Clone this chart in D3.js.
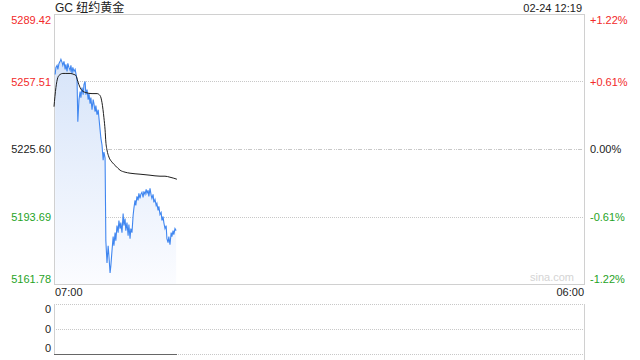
<!DOCTYPE html>
<head>
<meta charset="utf-8">
<script src="https://d3js.org/d3.v7.min.js"></script>
<style>
body {
  margin: 0;
  background: #fff;
}
svg {
  font-family: "Liberation Sans", Arial, "Noto Sans CJK SC", sans-serif;
  display: block;
}
.grid line {
  stroke: #c8c8c8;
  shape-rendering: crispEdges;
}
.frame {
  stroke: #d0d0d0;
  fill: none;
  shape-rendering: crispEdges;
}
</style>
</head>
<body>
<div id="chart"></div>
<script>

// --- Data ---
let title = "GC 纽约黄金",
    stamp = "02-24 12:19";

let prevClose = 5225.60;
let priceTicks = [5161.78, 5193.69, 5225.60, 5257.51, 5289.42];
let timeLabels = ["07:00", "06:00"];

// minutes after 07:00 for the price line
let priceMin = [3,5,8,10,13,16,18,21,23,26,29,31,34,36,39,42,44,47,49,52,
  55,57,60,62,65,68,70,73,76,78,81,83,86,89,91,94,96,99,102,104,
  107,109,112,115,117,120,122,125,128,130,133,135,138,141,143,146,148,151,154,156,
  159,161,164,167,169,172,174,177,180,182,185,187,190,193,195,198,200,203,206,208,
  211,213,216,219,221,224,226,229,232,234,237,240,242,245,247,250,253,255,258,260,
  263,266,268,271,273,276,279,281,284,286,289,292,294,297,299,302,305,307,310,312,
  315,318];

let price = [5260.84,5264.18,5265.13,5263.22,5266.08,5267.03,5267.99,5266.56,5265.13,5267.03,
  5263.22,5265.61,5262.27,5266.08,5264.18,5262.75,5265.13,5261.32,5264.18,5262.27,
  5263.22,5261.32,5258.46,5238.46,5248.94,5252.75,5249.89,5254.65,5251.32,5256.08,
  5257.51,5251.32,5253.70,5248.94,5251.79,5247.03,5249.89,5244.17,5248.94,5247.03,
  5243.22,5246.08,5241.79,5244.17,5240.36,5234.65,5230.83,5227.50,5220.36,5224.17,
  5221.31,5182.26,5171.77,5179.87,5175.11,5167.01,5170.35,5177.49,5184.16,5179.87,
  5186.06,5182.26,5189.40,5186.06,5191.78,5187.97,5190.83,5186.06,5195.12,5189.40,
  5192.73,5187.02,5190.83,5184.64,5189.88,5183.21,5187.97,5186.06,5194.16,5197.50,
  5201.31,5198.93,5203.21,5201.31,5204.64,5202.26,5204.16,5205.12,5202.74,5205.59,
  5204.16,5206.54,5204.64,5206.07,5203.21,5207.02,5203.69,5202.26,5204.16,5200.36,
  5201.78,5198.93,5199.88,5196.54,5198.45,5194.64,5195.59,5191.78,5193.69,5190.83,
  5187.97,5189.40,5183.21,5181.30,5184.16,5180.35,5186.06,5184.16,5187.02,5185.11,
  5187.97,5187.02];

// average price line
let avgMin = [0,5,10,16,23,31,42,52,57,62,68,73,83,99,112,120,125,130,133,135,
  138,143,151,161,172,185,198,224,250,276,289,302,312,320];
let avgPrice = [5245.60,5254.65,5259.41,5260.84,5261.32,5261.32,5261.32,5260.84,5260.37,5257.51,
  5254.65,5253.22,5252.27,5251.79,5251.79,5250.84,5247.51,5240.36,5234.65,5228.93,
  5225.12,5221.79,5219.40,5217.50,5215.59,5214.64,5214.16,5213.69,5213.21,5212.74,
  5212.74,5212.26,5211.78,5211.31];

// volume panel (all zero)
let volMin = [0, 320];
let volume = [0, 0];
let volLabels = ["0", "0", "0"];

// --- Layout ---
let W = 640, H = 360;
let pLeft = 54, pRight = 584,
    pTop = 14, pBottom = 284,
    vTop = 304, vBottom = 354;

let t0 = new Date(2024, 1, 24, 7, 0);
let toDate = m => d3.timeMinute.offset(t0, m);

let x = d3.scaleTime()
    .domain([t0, d3.timeMinute.offset(t0, 23 * 60)])
    .range([pLeft, pRight]);

let y = d3.scaleLinear()
    .domain([priceTicks[0], priceTicks[priceTicks.length - 1]])
    .range([pBottom, pTop]);

let yv = d3.scalePoint()
    .domain(d3.range(volLabels.length))
    .range([vTop, vBottom]);

let red = "#f22a2a", green = "#1fa31f";
let colorOf = v => v > prevClose + 1e-6 ? red : (v < prevClose - 1e-6 ? green : "#222");

let svg = d3.select("#chart").append("svg")
    .attr("width", W)
    .attr("height", H);

let defs = svg.append("defs");
let grad = defs.append("linearGradient")
    .attr("id", "fillGrad")
    .attr("gradientUnits", "userSpaceOnUse")
    .attr("x1", 0).attr("x2", 0)
    .attr("y1", pTop).attr("y2", pBottom);
grad.append("stop").attr("offset", "0%").attr("stop-color", "#cfdff8");
grad.append("stop").attr("offset", "100%").attr("stop-color", "#fbfcff");

// gridlines (inner ticks only)
let grid = svg.append("g").attr("class", "grid");
grid.selectAll("line")
  .data(priceTicks.slice(1, -1))
  .enter().append("line")
    .attr("x1", pLeft).attr("x2", pRight)
    .attr("y1", d => Math.round(y(d)) + 0.5)
    .attr("y2", d => Math.round(y(d)) + 0.5)
    .attr("stroke-dasharray", d => d === prevClose ? "1,1,1,1,4,2" : "1,1");

// main frame
svg.append("rect")
    .attr("class", "frame")
    .attr("x", pLeft + 0.5).attr("y", pTop + 0.5)
    .attr("width", pRight - pLeft).attr("height", pBottom - pTop);

// area + lines
let pts = priceMin.map((m, i) => ({t: toDate(m), v: price[i]}));
let avgPts = avgMin.map((m, i) => ({t: toDate(m), v: avgPrice[i]}));

svg.append("path")
    .datum(pts)
    .attr("fill", "url(#fillGrad)")
    .attr("d", d3.area()
      .x(d => x(d.t))
      .y0(pBottom)
      .y1(d => y(d.v)));

svg.append("path")
    .datum(pts)
    .attr("fill", "none")
    .attr("stroke", "#4187f0")
    .attr("stroke-width", 1.1)
    .attr("d", d3.line().x(d => x(d.t)).y(d => y(d.v)));

svg.append("path")
    .datum(avgPts)
    .attr("fill", "none")
    .attr("stroke", "#1e1e1e")
    .attr("stroke-width", 1)
    .attr("d", d3.line().curve(d3.curveMonotoneX).x(d => x(d.t)).y(d => y(d.v)));

// left price axis
let n = priceTicks.length;
let yAxisL = svg.append("g")
    .attr("transform", "translate(" + pLeft + ",0)")
    .call(d3.axisLeft(y).tickValues(priceTicks).tickSize(0).tickPadding(3)
      .tickFormat(d3.format(".2f")));
yAxisL.select(".domain").remove();
yAxisL.selectAll("text")
    .attr("font-size", 11)
    .attr("fill", d => colorOf(d))
    .attr("dy", d => d === priceTicks[n - 1] ? "0.85em" : (d === priceTicks[0] ? "-0.15em" : "0.32em"));
yAxisL.attr("font-family", null);

// right percent axis
let pct = d => {
  let p = (d / prevClose - 1) * 100;
  return (p > 0.0001 ? "+" : "") + p.toFixed(2) + "%";
};
let yAxisR = svg.append("g")
    .attr("transform", "translate(" + pRight + ",0)")
    .call(d3.axisRight(y).tickValues(priceTicks).tickSize(0).tickPadding(6).tickFormat(pct));
yAxisR.select(".domain").remove();
yAxisR.selectAll("text")
    .attr("font-size", 11)
    .attr("fill", d => colorOf(d))
    .attr("dy", d => d === priceTicks[n - 1] ? "0.85em" : (d === priceTicks[0] ? "-0.15em" : "0.32em"));
yAxisR.attr("font-family", null);

// time labels
svg.selectAll(".tlabel")
  .data(timeLabels)
  .enter().append("text")
    .attr("class", "tlabel")
    .attr("x", (d, i) => i === 0 ? x.range()[0] + 1 : x.range()[1])
    .attr("y", 296)
    .attr("text-anchor", (d, i) => i === 0 ? "start" : "end")
    .attr("font-size", 11)
    .attr("fill", "#222")
    .text(d => d);

// title and stamp
svg.append("text")
    .attr("x", pLeft + 1).attr("y", 12)
    .attr("font-size", 12)
    .attr("fill", "#222")
    .text(title);

svg.append("text")
    .attr("x", pRight - 2).attr("y", 12)
    .attr("text-anchor", "end")
    .attr("font-size", 11)
    .attr("fill", "#222")
    .text(stamp);

// watermark
svg.append("text")
    .attr("x", 574).attr("y", 281)
    .attr("text-anchor", "end")
    .attr("font-size", 11)
    .attr("fill", "#d4d4d4")
    .text("sina.com");

// --- volume panel ---
let vgrid = svg.append("g").attr("class", "grid");
vgrid.selectAll("line")
  .data(volLabels.map((d, i) => i))
  .enter().append("line")
    .attr("x1", pLeft).attr("x2", pRight)
    .attr("y1", d => yv(d) + 0.5)
    .attr("y2", d => yv(d) + 0.5)
    .attr("stroke-dasharray", "1,1");

svg.append("line")
    .attr("class", "frame")
    .attr("x1", pLeft + 0.5).attr("x2", pLeft + 0.5)
    .attr("y1", vTop).attr("y2", vBottom + 1);
svg.append("line")
    .attr("class", "frame")
    .attr("x1", pRight + 0.5).attr("x2", pRight + 0.5)
    .attr("y1", vTop).attr("y2", H);

let yVol = d3.scaleLinear().domain([0, 1]).range([vBottom, vTop]);
svg.append("path")
    .datum(volMin.map((m, i) => ({t: toDate(m), v: volume[i]})))
    .attr("fill", "none")
    .attr("stroke", "#666")
    .attr("stroke-width", 1)
    .attr("shape-rendering", "crispEdges")
    .attr("d", d3.line().x(d => x(d.t)).y(d => yVol(d.v) + 0.5));

svg.selectAll(".vlabel")
  .data(volLabels)
  .enter().append("text")
    .attr("class", "vlabel")
    .attr("x", pLeft - 3)
    .attr("y", (d, i) => yv(i))
    .attr("dy", (d, i) => i === 0 ? "0.85em" : (i === volLabels.length - 1 ? "-0.15em" : "0.32em"))
    .attr("text-anchor", "end")
    .attr("font-size", 11)
    .attr("fill", "#222")
    .text(d => d);

</script>
</body>
